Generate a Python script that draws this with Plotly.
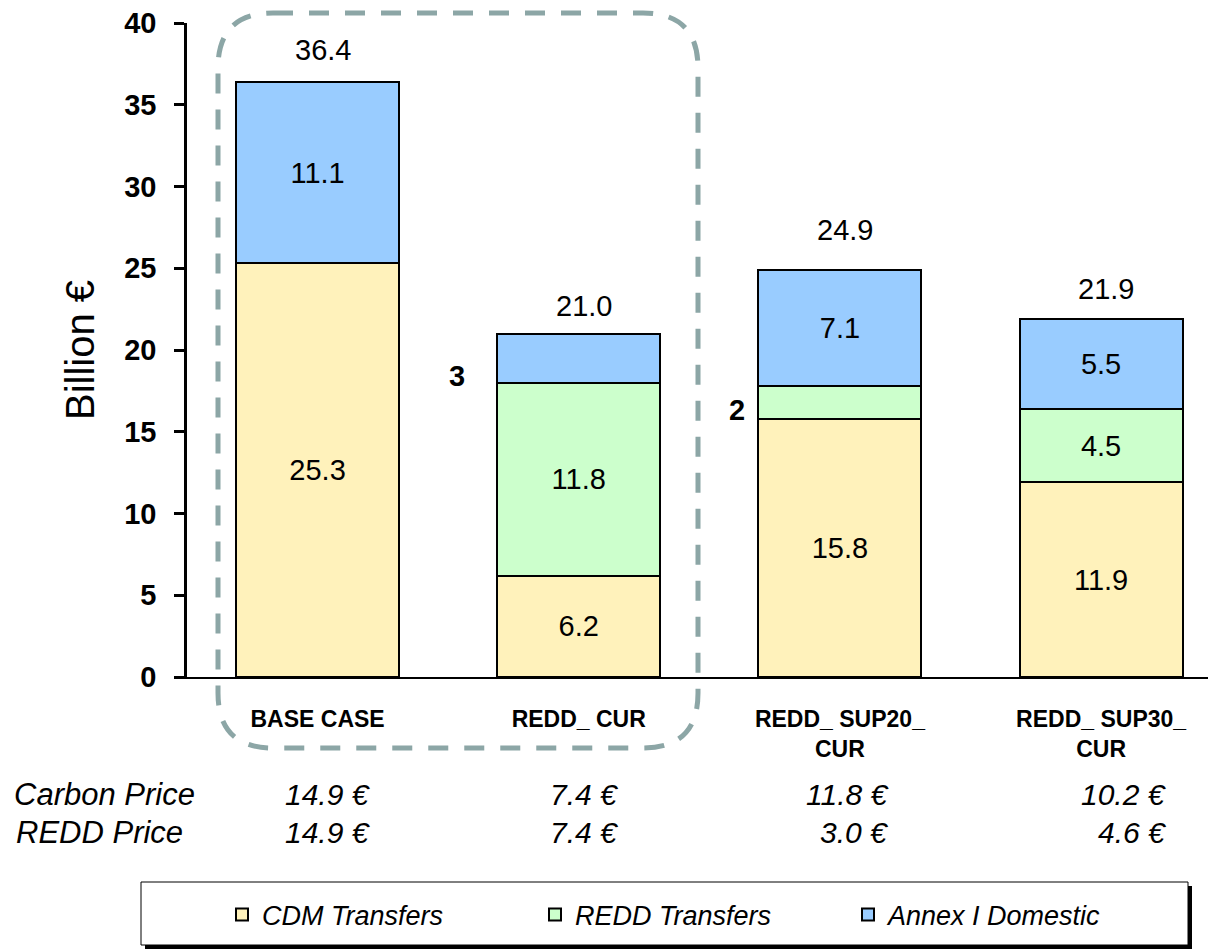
import plotly.graph_objects as go

# ---------------- data ----------------
scenarios = ["BASE CASE", "REDD_ CUR", "REDD_ SUP20_<br>CUR", "REDD_ SUP30_<br>CUR"]
cdm_transfers = [25.3, 6.2, 15.8, 11.9]
redd_transfers = [0.0, 11.8, 2.0, 4.5]
annex_domestic = [11.1, 3.0, 7.1, 5.5]
totals = [36.4, 21.0, 24.9, 21.9]
carbon_price = ["14.9 €", "7.4 €", "11.8 €", "10.2 €"]
redd_price = ["14.9 €", "7.4 €", "3.0 €", "4.6 €"]
# small segments labelled beside the bar instead of inside (scenario, series, text)
outside_labels = [(1, "annex", "3"), (2, "redd", "2")]

# ---------------- styling ----------------
FONT = "Arial, Liberation Sans, sans-serif"
OFF = 8                       # page body margin in the browser
W, H = 1216 - OFF, 952 - OFF
PX0, PY0 = 187, 677           # absolute pixel of plot origin (x left, y bottom)
PW, PH = 1029, 654
ML, MT = PX0 - OFF, (PY0 - PH) - OFF
MR = W - ML - PW
MB = H - MT - PH
BAR_W = 0.624

def px2paper(px, py):
    return (px - PX0) / PW, (PY0 - py) / PH

x = list(range(len(scenarios)))
outside_set = {(i, s) for i, s, _ in outside_labels}

def seg_text(vals, key):
    return ["" if (v == 0 or (i, key) in outside_set) else f"{v:.1f}" for i, v in enumerate(vals)]

series = [
    ("CDM Transfers", cdm_transfers, "cdm", "#FFF2BB"),
    ("REDD Transfers", redd_transfers, "redd", "#CCFFCC"),
    ("Annex I Domestic", annex_domestic, "annex", "#99CCFF"),
]

fig = go.Figure()
for name, vals, key, col in series:
    fig.add_trace(go.Bar(
        x=x, y=vals, name=name, width=BAR_W,
        marker=dict(color=col, line=dict(color="black", width=2)),
        text=seg_text(vals, key), textposition="inside", insidetextanchor="middle",
        textangle=0, constraintext="none",
        textfont=dict(family=FONT, size=29, color="black"),
        hoverinfo="skip",
    ))

annotations = []
# totals above bars
total_offsets = [32, 28, 40, 30]
for i, t in enumerate(totals):
    annotations.append(dict(x=i, y=t, xref="x", yref="y", text=f"{t:.1f}", showarrow=False,
                            yanchor="middle", yshift=total_offsets[i], xshift=5,
                            font=dict(family=FONT, size=29, color="black")))
# outside small labels
cum = {"cdm": [0] * 4, "redd": cdm_transfers,
       "annex": [a + b for a, b in zip(cdm_transfers, redd_transfers)]}
vals_of = {"cdm": cdm_transfers, "redd": redd_transfers, "annex": annex_domestic}
shift_xy = {1: (-30, -18), 2: (-11, -8)}
for i, key, txt in outside_labels:
    yc = cum[key][i] + vals_of[key][i] / 2
    annotations.append(dict(x=i - BAR_W / 2, y=yc, xref="x", yref="y", text=f"<b>{txt}</b>",
                            showarrow=False, xanchor="right", yanchor="middle",
                            xshift=shift_xy[i][0], yshift=shift_xy[i][1],
                            font=dict(family=FONT, size=29, color="black")))

# price rows
right_px = [372, 620, 890, 1168]
for label, vals, py, lx in [("Carbon Price", carbon_price, 795, 12), ("REDD Price", redd_price, 833, 14)]:
    px_, py_ = px2paper(lx, py)
    annotations.append(dict(x=px_, y=py_, xref="paper", yref="paper", text=label, showarrow=False,
                            xanchor="left", yanchor="middle",
                            font=dict(family=FONT, size=31, color="black", style="italic")))
    for v, rx in zip(vals, right_px):
        px_, _ = px2paper(rx, py)
        annotations.append(dict(x=px_, y=py_, xref="paper", yref="paper", text=v, showarrow=False,
                                xanchor="right", yanchor="middle",
                                font=dict(family=FONT, size=30, color="black", style="italic")))

# shapes: dashed rounded highlight box and legend frame with shadow
shapes = []
lft, rgt, top, bot, rad = 218, 698, 13, 748, 55
x0, y0 = px2paper(lft, top)
x1, y1 = px2paper(rgt, bot)
rx, ry = rad / PW, rad / PH
path = (f"M{x0+rx},{y0} L{x1-rx},{y0} Q{x1},{y0} {x1},{y0-ry} "
        f"L{x1},{y1+ry} Q{x1},{y1} {x1-rx},{y1} "
        f"L{x0+rx},{y1} Q{x0},{y1} {x0},{y1+ry} "
        f"L{x0},{y0-ry} Q{x0},{y0} {x0+rx},{y0} Z")
shapes.append(dict(type="path", path=path, xref="paper", yref="paper",
                   line=dict(color="#8CA6A6", width=5, dash="20px,16px"), layer="above"))

bx0, by0 = px2paper(141, 882)
bx1, by1 = px2paper(1188, 945)
sx0, sy0 = px2paper(145, 886)
sx1, sy1 = px2paper(1192, 949)
shapes.append(dict(type="rect", xref="paper", yref="paper", x0=sx0, y0=sy0, x1=sx1, y1=sy1,
                   fillcolor="black", line=dict(width=0), layer="above"))
shapes.append(dict(type="rect", xref="paper", yref="paper", x0=bx0, y0=by0, x1=bx1, y1=by1,
                   fillcolor="white", line=dict(color="black", width=1), layer="above"))

lgx, lgy = px2paper(222, 915)

fig.update_layout(
    width=W, height=H, barmode="stack",
    margin=dict(l=ML, r=MR, t=MT, b=MB, autoexpand=False),
    paper_bgcolor="white", plot_bgcolor="white",
    font=dict(family=FONT, color="black"),
    showlegend=True,
    legend=dict(orientation="h", x=lgx, y=lgy, xanchor="left", yanchor="middle",
                traceorder="normal", entrywidth=268, entrywidthmode="pixels",
                font=dict(family=FONT, size=27, color="black", style="italic"),
                bgcolor="rgba(0,0,0,0)", borderwidth=0),
    annotations=annotations, shapes=shapes,
    xaxis=dict(range=[-0.5, 3.44], tickvals=x, ticktext=[f"<b>{s}</b>" for s in scenarios],
               tickfont=dict(family=FONT, size=23, color="black"),
               showline=True, linecolor="black", linewidth=2, ticks="", showgrid=False,
               zeroline=False, ticklabelstandoff=20, fixedrange=True),
    yaxis=dict(range=[0, 40], tickvals=[0, 5, 10, 15, 20, 25, 30, 35, 40],
               showline=True, linecolor="black", linewidth=2.5,
               ticks="outside", ticklen=10, tickwidth=2.5, tickcolor="black",
               tickfont=dict(family=FONT, size=29, color="black", weight="bold"),
               ticklabelstandoff=12, ticklabeloverflow="allow",
               showgrid=False, zeroline=False,
               title=dict(text="Billion €", font=dict(family=FONT, size=40, color="black"), standoff=18)),
)

fig.write_html("out.html")
